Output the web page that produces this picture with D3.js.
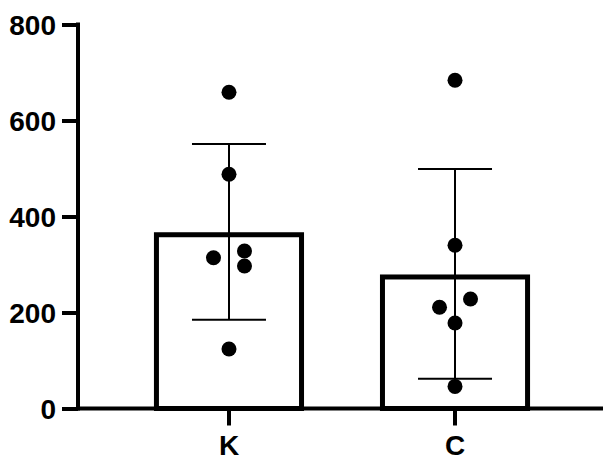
<!DOCTYPE html>
<html>
  <head>
    <meta charset="utf-8">
    <title>Bar with points</title>
    <style>
      body { margin: 0; background: #fff; }
      text { font-family: "Liberation Sans", Arial, sans-serif; font-weight: bold; }
    </style>
  </head>
  <body>
    <div id="chart"></div>
    <script src="https://cdn.jsdelivr.net/npm/d3@7"></script>
    <script>

        var groups = ['K', 'C'];
        var means = [362, 274];
        var sdUpper = [551, 499];
        var sdLower = [185, 62];
        var kPoints = [659, 488, 314, 328, 297, 124];
        var cPoints = [684, 340, 211, 228, 178, 46];
        // horizontal slot of each point (-1 left, 0 centre, 1 right)
        var kSlots = [0, 0, -1, 1, 1, 0];
        var cSlots = [0, 0, -1, 1, 0, 0];
        var yTicks = [0, 200, 400, 600, 800];

        var width = 603;
        var height = 456;
        var dotRadius = 7.5;

        var svg = d3.select('#chart')
          .append('svg')
          .attr('width', width)
          .attr('height', height);

        var x = d3.scaleBand()
          .domain(groups)
          .range([78, 606])
          .paddingInner(0.336)
          .paddingOuter(0.336);

        var y = d3.scaleLinear()
          .domain([0, 800])
          .range([408.5, 24.5]);

        var slot = d3.scaleLinear().domain([-1, 1]).range([-15.5, 15.5]);

        var rows = groups.map(function(g, i) {
          return {
            group: g,
            mean: means[i],
            hi: sdUpper[i],
            lo: sdLower[i],
            points: (i === 0 ? kPoints : cPoints).map(function(v, j) {
              return { value: v, slot: (i === 0 ? kSlots : cSlots)[j] };
            })
          };
        });

        // bars
        var bw = 5;
        svg.selectAll('rect.bar')
          .data(rows)
          .enter()
          .append('rect')
          .attr('class', 'bar')
          .attr('x', function(d) { return x(d.group) + bw / 2; })
          .attr('width', x.bandwidth() - bw)
          .attr('y', function(d) { return y(d.mean); })
          .attr('height', function(d) { return y(0) - y(d.mean); })
          .attr('fill', '#fff')
          .attr('stroke', '#000')
          .attr('stroke-width', bw);

        // error bars
        var cap = 37;
        var err = svg.selectAll('g.err')
          .data(rows)
          .enter()
          .append('g')
          .attr('class', 'err')
          .attr('transform', function(d) {
            return 'translate(' + (x(d.group) + x.bandwidth() / 2) + ',0)';
          })
          .attr('stroke', '#000')
          .attr('stroke-width', 2);
        err.append('line')
          .attr('x1', 0).attr('x2', 0)
          .attr('y1', function(d) { return y(d.hi); })
          .attr('y2', function(d) { return y(d.lo); });
        err.append('line')
          .attr('x1', -cap).attr('x2', cap)
          .attr('y1', function(d) { return y(d.hi); })
          .attr('y2', function(d) { return y(d.hi); });
        err.append('line')
          .attr('x1', -cap).attr('x2', cap)
          .attr('y1', function(d) { return y(d.lo); })
          .attr('y2', function(d) { return y(d.lo); });

        // points
        err.selectAll('circle')
          .data(function(d) { return d.points; })
          .enter()
          .append('circle')
          .attr('cx', function(d) { return slot(d.slot); })
          .attr('cy', function(d) { return y(d.value); })
          .attr('r', dotRadius)
          .attr('fill', '#000')
          .attr('stroke', 'none');

        // y axis
        var yAxis = svg.append('g')
          .attr('transform', 'translate(78,0)')
          .call(d3.axisLeft(y).tickValues(yTicks).tickSize(16).tickPadding(6));
        yAxis.select('.domain').remove();
        yAxis.append('line')
          .attr('x1', 0).attr('x2', 0)
          .attr('y1', y(800) - 2).attr('y2', y(0) + 2)
          .attr('stroke', '#000').attr('stroke-width', 4);
        yAxis.selectAll('.tick line').attr('stroke', '#000').attr('stroke-width', 4);
        yAxis.selectAll('.tick text')
          .attr('fill', '#000')
          .style('font-size', '28px')
          .attr('dy', '0.36em');

        // x axis
        var xAxis = svg.append('g')
          .attr('transform', 'translate(0,' + y(0) + ')')
          .call(d3.axisBottom(x).tickSize(17).tickPadding(10));
        xAxis.select('.domain').remove();
        xAxis.append('line')
          .attr('x1', 76).attr('x2', width)
          .attr('stroke', '#000').attr('stroke-width', 4);
        xAxis.selectAll('.tick line').attr('stroke', '#000').attr('stroke-width', 4);
        xAxis.selectAll('.tick text')
          .attr('fill', '#000')
          .style('font-size', '28px');

    </script>
  </body>
</html>
